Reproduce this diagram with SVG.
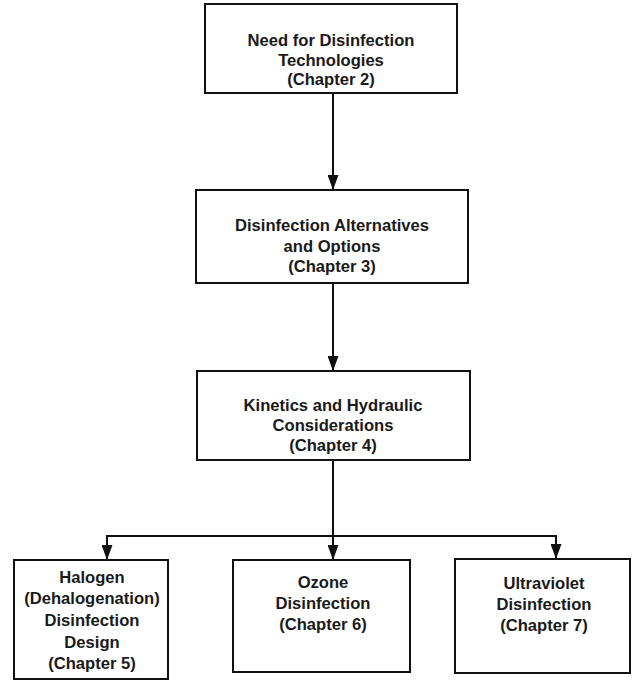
<svg xmlns="http://www.w3.org/2000/svg" width="639" height="685" viewBox="0 0 639 685">
<defs>
<marker id="ah" markerUnits="userSpaceOnUse" markerWidth="15" markerHeight="11" viewBox="0 0 15 11" refX="15" refY="5.5" orient="auto">
<path d="M0,0 L15,5.5 L0,11 Z" fill="#111"/>
</marker>
<style>
.box{fill:none;stroke:#111;stroke-width:2}
.t{font-family:"Liberation Sans",Arial,sans-serif;font-size:16.6px;font-weight:bold;fill:#1a1a1a;text-anchor:middle}
.c{fill:none;stroke:#111;stroke-width:2}
</style>
</defs>
<rect width="639" height="685" fill="#fff"/>
<g id="n1">
<rect class="box" x="205" y="4" width="252" height="89"/>
<text class="t" x="331" y="46">Need for Disinfection</text>
<text class="t" x="331" y="66">Technologies</text>
<text class="t" x="331" y="85">(Chapter 2)</text>
</g>
<g id="n2">
<rect class="box" x="196" y="190" width="272" height="93"/>
<text class="t" x="332" y="231">Disinfection Alternatives</text>
<text class="t" x="332" y="252">and Options</text>
<text class="t" x="332" y="272">(Chapter 3)</text>
</g>
<g id="n3">
<rect class="box" x="197" y="371" width="273" height="89"/>
<text class="t" x="333" y="411">Kinetics and Hydraulic</text>
<text class="t" x="333" y="431">Considerations</text>
<text class="t" x="333" y="451">(Chapter 4)</text>
</g>
<g id="n4">
<rect class="box" x="14" y="560" width="154" height="119"/>
<text class="t" x="92" y="583">Halogen</text>
<text class="t" x="92" y="604">(Dehalogenation)</text>
<text class="t" x="92" y="626">Disinfection</text>
<text class="t" x="92" y="648">Design</text>
<text class="t" x="92" y="669">(Chapter 5)</text>
</g>
<g id="n5">
<rect class="box" x="233" y="560" width="177" height="112"/>
<text class="t" x="323" y="588">Ozone</text>
<text class="t" x="323" y="609">Disinfection</text>
<text class="t" x="323" y="630">(Chapter 6)</text>
</g>
<g id="n6">
<rect class="box" x="455" y="559" width="175" height="114"/>
<text class="t" x="544" y="589">Ultraviolet</text>
<text class="t" x="544" y="610">Disinfection</text>
<text class="t" x="544" y="631">(Chapter 7)</text>
</g>
<g id="connectors">
<line class="c" x1="333" y1="93" x2="333" y2="190" marker-end="url(#ah)"/>
<line class="c" x1="333" y1="283" x2="333" y2="371" marker-end="url(#ah)"/>
<line class="c" x1="333" y1="460" x2="333" y2="560" marker-end="url(#ah)"/>
<line class="c" x1="106" y1="536" x2="557" y2="536"/>
<line class="c" x1="107" y1="535" x2="107" y2="560" marker-end="url(#ah)"/>
<line class="c" x1="556" y1="535" x2="556" y2="559" marker-end="url(#ah)"/>
</g>
</svg>
